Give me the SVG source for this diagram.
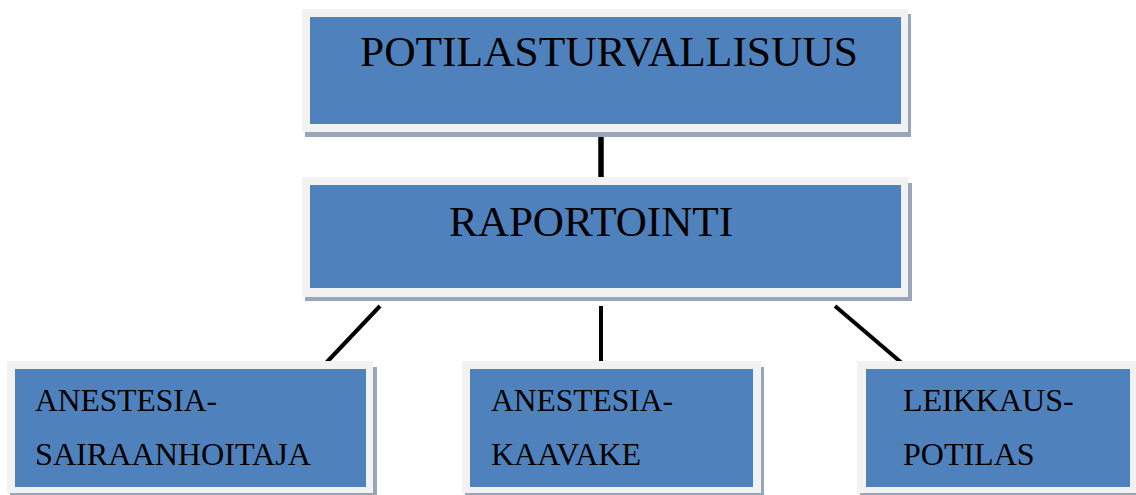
<svg xmlns="http://www.w3.org/2000/svg" width="1136" height="495" viewBox="0 0 1136 495">
<style>
.shadow{fill:#97a6b9}
.frame{fill:#f2f2f2}
.inner{fill:#4f81bd}
.big{font-family:"Liberation Serif","Times New Roman",serif;font-size:43px;fill:#000}
.small{font-family:"Liberation Serif","Times New Roman",serif;font-size:32px;fill:#000}
.conn{stroke:#000;stroke-width:4;fill:none}
</style>
<rect width="1136" height="495" fill="#fff"/>
<g id="connectors">
<line class="conn" x1="601" y1="128" x2="601" y2="177" style="stroke-width:5.5"/>
<line class="conn" x1="380" y1="306" x2="325" y2="364"/>
<line class="conn" x1="601" y1="306" x2="601" y2="363"/>
<line class="conn" x1="835" y1="306" x2="903" y2="364"/>
</g>
<g id="potilasturvallisuus">
<rect class="shadow" x="305" y="14" width="606" height="123"/>
<rect class="frame" x="302" y="9" width="606" height="123"/>
<rect class="inner" x="310" y="17" width="591" height="107"/>
<text class="big" x="360" y="66" textLength="498" lengthAdjust="spacingAndGlyphs">POTILASTURVALLISUUS</text>
</g>
<g id="raportointi">
<rect class="shadow" x="305" y="183" width="607" height="118"/>
<rect class="frame" x="302" y="177" width="606" height="120"/>
<rect class="inner" x="310" y="185" width="591" height="103"/>
<text class="big" x="449" y="236" textLength="284" lengthAdjust="spacingAndGlyphs">RAPORTOINTI</text>
</g>
<g id="anestesiasairaanhoitaja">
<rect class="shadow" x="10" y="367" width="367" height="130"/>
<rect class="frame" x="7" y="361" width="366" height="132"/>
<rect class="inner" x="15" y="369" width="351" height="118"/>
<text class="small" x="35" y="411" textLength="182" lengthAdjust="spacingAndGlyphs">ANESTESIA-</text>
<text class="small" x="35" y="465" textLength="276" lengthAdjust="spacingAndGlyphs">SAIRAANHOITAJA</text>
</g>
<g id="anestesiakaavake">
<rect class="shadow" x="465" y="367" width="299" height="130"/>
<rect class="frame" x="462" y="361" width="299" height="132"/>
<rect class="inner" x="470" y="369" width="283" height="118"/>
<text class="small" x="491" y="411" textLength="182" lengthAdjust="spacingAndGlyphs">ANESTESIA-</text>
<text class="small" x="491" y="465">KAAVAKE</text>
</g>
<g id="leikkauspotilas">
<rect class="shadow" x="860" y="367" width="280" height="130"/>
<rect class="frame" x="857" y="361" width="279" height="132"/>
<rect class="inner" x="866" y="369" width="264" height="118"/>
<text class="small" x="903" y="411">LEIKKAUS-</text>
<text class="small" x="903" y="465">POTILAS</text>
</g>
</svg>
